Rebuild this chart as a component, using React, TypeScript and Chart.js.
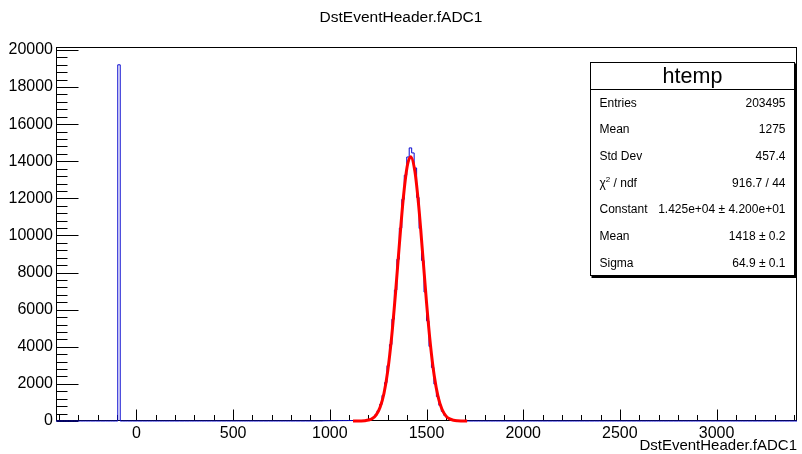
import React, { useEffect, useRef } from 'react';
import { Chart, registerables } from 'chart.js';

Chart.register(...registerables);

// ---- Histogram definition ----
const X_MIN = -416;
const X_MAX = 3416;
const N_BINS = 300;
const Y_MAX = 20160;

const spikeBin = 25;
const spikeCount = 19200;

const tailStartBin = 108;
const tailCounts = [8, 10, 12, 14, 15, 16, 18, 18, 20, 20, 22, 24, 26, 28];

const peakStartBin = 122;
const peakCounts = [
  3, 6, 14, 28, 55, 104, 188, 330, 552, 890, 1385, 2070, 2985, 4120, 5490, 7060, 8720, 10400,
  11950, 13250, 14230, 14720, 14450, 13640, 12050, 10380, 8650, 6950, 5400, 4020, 2880, 1990,
  1320, 845, 520, 305, 172, 94, 48, 24, 11, 5, 2,
];

// ---- Gaussian fit curve ----
const fitX = [1120, 1140, 1160, 1180, 1200, 1220, 1240, 1260, 1280, 1300, 1320, 1340, 1360, 1380, 1400, 1418, 1440, 1460, 1480, 1500, 1520, 1540, 1560, 1580, 1600, 1620, 1640, 1660, 1680, 1700, 1710];
const fitY = [0.4, 1.5, 5, 17, 51, 136, 331, 736, 1486, 2729, 4557, 6921, 9559, 12006, 13713, 14250, 13455, 11558, 9029, 6414, 4144, 2435, 1301, 632, 279, 112, 41, 14, 4, 1, 0.5];

// ---- Axes ----
const xTickValues = [0, 500, 1000, 1500, 2000, 2500, 3000];
const yTickValues = [0, 2000, 4000, 6000, 8000, 10000, 12000, 14000, 16000, 18000, 20000];
const xTickStep = 500;
const xMinorStep = 100;
const yTickStep = 2000;
const yMinorStep = 400;

// ---- Texts ----
const chartTitle = 'DstEventHeader.fADC1';
const xAxisTitle = 'DstEventHeader.fADC1';
const statsName = 'htemp';
const statsLabels = ['Entries', 'Mean', 'Std Dev', 'CHI', 'Constant', 'Mean', 'Sigma'];
const statsValues = ['203495', '1275', '457.4', '916.7 / 44', '1.425e+04 \u00b1 4.200e+01', '1418 \u00b1 0.2', '64.9 \u00b1 0.1'];

const FONT = "'Liberation Sans', Arial, Helvetica, sans-serif";
const HIST_COLOR = '#0a0ad0';

function buildHistPoints() {
  const counts = new Array(N_BINS).fill(0);
  counts[spikeBin] = spikeCount;
  tailCounts.forEach((c, i) => (counts[tailStartBin + i] = c));
  peakCounts.forEach((c, i) => (counts[peakStartBin + i] = c));
  const w = (X_MAX - X_MIN) / N_BINS;
  const pts: { x: number; y: number }[] = [];
  for (let i = 0; i < N_BINS; i++) pts.push({ x: X_MIN + i * w, y: counts[i] });
  pts.push({ x: X_MAX, y: counts[N_BINS - 1] });
  return pts;
}

const rootPlugin = {
  id: 'rootStyle',
  beforeDatasetsDraw(chart: any) {
    const { ctx, chartArea: a, scales } = chart;
    const xs = scales.x;
    const ys = scales.y;
    ctx.save();
    ctx.strokeStyle = '#000';
    ctx.lineWidth = 1;
    const L = Math.round(a.left) + 0.5;
    const T = Math.round(a.top) + 0.5;
    const R = Math.round(a.right) - 0.5;
    const B = Math.round(a.bottom) - 0.5;
    ctx.strokeRect(L, T, R - L, B - T);
    ctx.beginPath();
    for (let v = Math.ceil(X_MIN / xMinorStep) * xMinorStep; v <= X_MAX; v += xMinorStep) {
      const px = Math.round(xs.getPixelForValue(v)) + 0.5;
      const len = v % xTickStep === 0 ? 11 : 5.5;
      ctx.moveTo(px, B);
      ctx.lineTo(px, B - len);
    }
    for (let v = 0; v <= Y_MAX; v += yMinorStep) {
      const py = Math.round(ys.getPixelForValue(v)) + 0.5;
      const len = v % yTickStep === 0 ? 22 : 11;
      ctx.moveTo(L, py);
      ctx.lineTo(L + len, py);
    }
    ctx.stroke();
    ctx.restore();
  },
  afterDraw(chart: any) {
    const { ctx, chartArea: a } = chart;
    ctx.save();
    // main title
    ctx.fillStyle = '#000';
    ctx.font = `15.5px ${FONT}`;
    ctx.textAlign = 'center';
    ctx.textBaseline = 'middle';
    ctx.fillText(chartTitle, chart.width / 2, 18);
    // x axis title
    ctx.font = `15px ${FONT}`;
    ctx.textAlign = 'right';
    ctx.fillText(xAxisTitle, a.right, 446);

    // stats box
    const bx = 590.5, by = 62.5, bw = 204, bh = 213;
    ctx.fillStyle = '#000';
    ctx.fillRect(bx + 1, by + 1, bw + 1.5, bh + 1.5);
    ctx.fillStyle = '#fff';
    ctx.fillRect(bx, by, bw, bh);
    ctx.strokeStyle = '#000';
    ctx.lineWidth = 1;
    ctx.strokeRect(bx, by, bw, bh);
    const rowH = bh / 8;
    ctx.beginPath();
    ctx.moveTo(bx, Math.round(by + rowH) + 0.5);
    ctx.lineTo(bx + bw, Math.round(by + rowH) + 0.5);
    ctx.stroke();
    ctx.fillStyle = '#000';
    ctx.font = `21.5px ${FONT}`;
    ctx.textAlign = 'center';
    ctx.textBaseline = 'middle';
    ctx.fillText(statsName, bx + bw / 2, by + rowH / 2 + 1);
    ctx.font = `12px ${FONT}`;
    statsLabels.forEach((lab, i) => {
      const cy = by + rowH * (i + 1.5) + 1;
      ctx.textAlign = 'left';
      if (lab === 'CHI') {
        let x = bx + 9;
        ctx.font = `12px ${FONT}`;
        ctx.fillText('\u03c7', x, cy);
        x += ctx.measureText('\u03c7').width;
        ctx.font = `8px ${FONT}`;
        ctx.fillText('2', x, cy - 4);
        x += ctx.measureText('2').width;
        ctx.font = `12px ${FONT}`;
        ctx.fillText(' / ndf', x, cy);
      } else {
        ctx.fillText(lab, bx + 9, cy);
      }
      ctx.textAlign = 'right';
      ctx.fillText(statsValues[i], bx + bw - 9, cy);
    });
    ctx.restore();
  },
};

export default function App() {
  const ref = useRef<HTMLCanvasElement | null>(null);
  useEffect(() => {
    if (!ref.current) return;
    const chart = new Chart(ref.current, {
      type: 'line',
      data: {
        datasets: [
          {
            label: 'fit',
            data: fitX.map((x, i) => ({ x, y: fitY[i] })),
            borderColor: '#ff0000',
            borderWidth: 3,
            pointRadius: 0,
            cubicInterpolationMode: 'monotone',
            fill: false,
            clip: false as any,
          },
          {
            label: 'htemp',
            data: buildHistPoints(),
            borderColor: HIST_COLOR,
            borderWidth: 1,
            pointRadius: 0,
            stepped: 'before',
            fill: false,
            clip: false as any,
          },
        ],
      },
      options: {
        animation: false,
        responsive: false,
        maintainAspectRatio: false,
        layout: { padding: { left: 0, top: 47, right: 5, bottom: 0 } },
        plugins: { legend: { display: false }, tooltip: { enabled: false }, title: { display: false } },
        scales: {
          x: {
            type: 'linear',
            min: X_MIN,
            max: X_MAX,
            grid: { display: false, drawTicks: false },
            border: { display: false },
            ticks: {
              maxRotation: 0,
              autoSkip: false,
              padding: 3,
              color: '#000',
              font: { family: FONT, size: 16 },
              callback: (v: any) => String(v),
            },
            afterBuildTicks: (s: any) => {
              s.ticks = xTickValues.map((value) => ({ value }));
            },
            afterFit: (s: any) => {
              s.height = 33;
            },
          },
          y: {
            type: 'linear',
            min: 0,
            max: Y_MAX,
            grid: { display: false, drawTicks: false },
            border: { display: false },
            ticks: {
              autoSkip: false,
              padding: 3,
              color: '#000',
              font: { family: FONT, size: 16 },
              callback: (v: any) => String(v),
            },
            afterBuildTicks: (s: any) => {
              s.ticks = yTickValues.map((value) => ({ value }));
            },
            afterFit: (s: any) => {
              s.width = 56;
            },
          },
        },
      },
      plugins: [rootPlugin],
    } as any);
    return () => chart.destroy();
  }, []);
  return (
    <div style={{ position: 'fixed', left: 0, top: 0, width: 802, height: 454, background: '#fff' }}>
      <canvas ref={ref} width={802} height={454} style={{ display: 'block', width: 802, height: 454 }} />
    </div>
  );
}
